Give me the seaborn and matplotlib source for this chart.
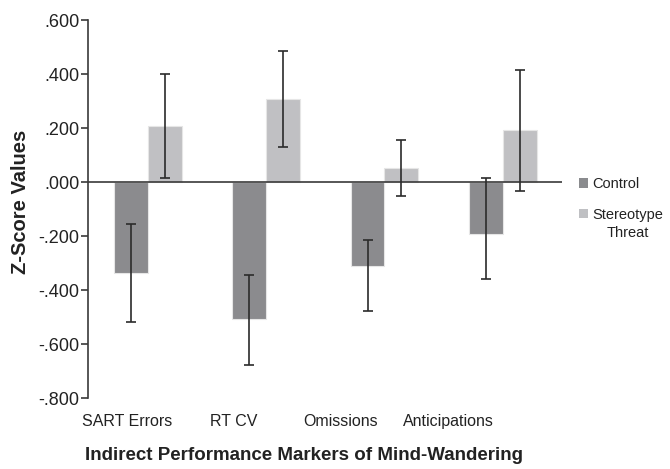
import matplotlib
matplotlib.use("Agg")
import matplotlib.pyplot as plt
import matplotlib.ticker as mticker
import numpy as np
import pandas as pd
import seaborn as sns

# Datos
categorias = ["SART Errors", "RT CV", "Omissions", "Anticipations"]
grupos = ["Control", "Stereotype Threat"]
control = [-0.335, -0.508, -0.310, -0.192]
amenaza = [0.207, 0.309, 0.053, 0.193]
# extremos de las barras de error (abajo, arriba)
control_bajo = [-0.517, -0.676, -0.475, -0.358]
control_alto = [-0.153, -0.345, -0.214, 0.017]
amenaza_bajo = [0.015, 0.131, -0.051, -0.032]
amenaza_alto = [0.402, 0.487, 0.157, 0.417]
# desplazamiento de las etiquetas del eje x respecto al centro del grupo
desplaz_etiquetas = [-0.17, -0.27, -0.37, -0.46]

COLORES = ["#8a8b8e", "#bfc0c3"]

df = pd.DataFrame({
    "Marker": categorias * 2,
    "Group": [grupos[0]] * 4 + [grupos[1]] * 4,
    "Value": control + amenaza,
    "Low": control_bajo + amenaza_bajo,
    "High": control_alto + amenaza_alto,
})

sns.set_style("white")
plt.rcParams["font.family"] = ["Liberation Sans", "DejaVu Sans"]

fig = plt.figure(figsize=(6.7, 4.69), dpi=100)
ax = fig.add_axes([0.132, 0.1507, 0.707, 0.806])

sns.barplot(data=df, x="Marker", y="Value", hue="Group", order=categorias,
            hue_order=grupos, palette=COLORES, errorbar=None, width=0.574,
            gap=0, edgecolor="#e6e6e6", linewidth=0.8, ax=ax, legend=False)

# barras de error sobre cada barra dibujada
for cont, grupo in zip(ax.containers, grupos):
    sub = df[df["Group"] == grupo].set_index("Marker").loc[categorias]
    xs = [p.get_x() + p.get_width() / 2 for p in cont.patches]
    vals = sub["Value"].to_numpy()
    yerr = np.vstack([vals - sub["Low"].to_numpy(), sub["High"].to_numpy() - vals])
    ax.errorbar(xs, vals, yerr=yerr, fmt="none", ecolor="#2b2b2b",
                elinewidth=1.2, capsize=3.5, capthick=1.2, zorder=5)

ax.axhline(0, color="#3a3a3a", lw=1.2, zorder=4)
ax.set_xlim(-0.5, 3.5)
ax.set_ylim(-0.8, 0.6)
ax.set_yticks(np.arange(-0.8, 0.61, 0.2))
ax.yaxis.set_major_formatter(mticker.FuncFormatter(
    lambda v, p: f"{v:.3f}".replace("0.", ".", 1) if abs(v) > 1e-9 else ".000"))
ax.set_xticks(np.arange(len(categorias)) + np.array(desplaz_etiquetas))
ax.set_xticklabels(categorias)

for lado in ["top", "right", "bottom"]:
    ax.spines[lado].set_visible(False)
ax.spines["left"].set_color("#3a3a3a")
ax.spines["left"].set_linewidth(1.2)
ax.tick_params(axis="y", left=True, direction="out", length=5, width=1.2,
               color="#3a3a3a", labelsize=13, labelcolor="#222222", pad=1.5)
ax.tick_params(axis="x", bottom=False, labelsize=11.5, labelcolor="#222222", pad=8)

ax.set_xlabel("Indirect Performance Markers of Mind-Wandering", fontsize=13.5,
              fontweight="bold", color="#222222")
ax.set_ylabel("Z-Score Values", fontsize=14.5, fontweight="bold", color="#222222")
ax.xaxis.set_label_coords(0.455, -0.13)
ax.yaxis.set_label_coords(-0.124, 0.52)

# leyenda: "Threat" va centrado debajo de "Stereotype"
manejadores = [plt.Rectangle((0, 0), 1, 1, facecolor=c, edgecolor="none") for c in COLORES]
ley = fig.legend(manejadores, ["Control", "Stereotype"], loc="upper left",
                 bbox_to_anchor=(579 / 670, 1 - 177 / 469), frameon=False,
                 fontsize=10.5, handlelength=0.62, handleheight=0.62,
                 handletextpad=0.3, labelspacing=1.15, borderpad=0,
                 borderaxespad=0)
for t in ley.get_texts():
    t.set_color("#222222")

fig.canvas.draw()
caja = ley.get_texts()[1].get_window_extent().transformed(fig.transFigure.inverted())
fig.text((caja.x0 + caja.x1) / 2, caja.y0 - 0.009, "Threat", ha="center", va="top",
         fontsize=10.5, color="#222222")

fig.savefig("out.png", dpi=100)
